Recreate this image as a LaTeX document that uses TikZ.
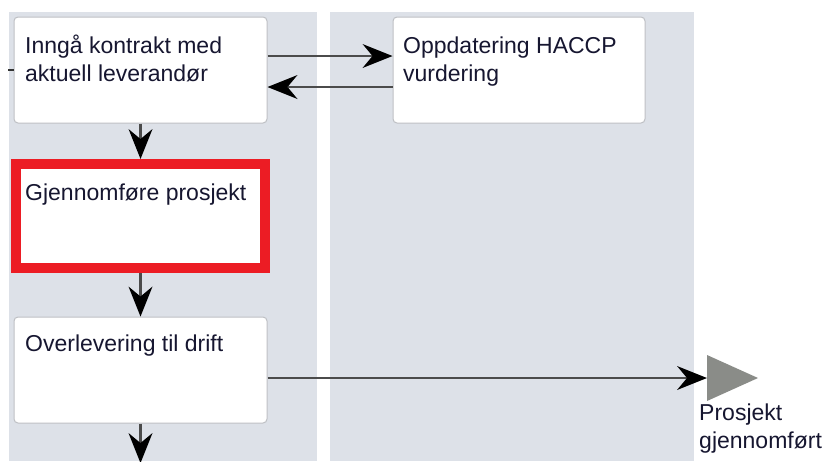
\documentclass[tikz,border=0pt]{standalone}
\usepackage{fontspec}
\setmainfont{Liberation Sans}
\usetikzlibrary{arrows.meta}
\definecolor{lanebg}{RGB}{221,225,232}
\definecolor{boxline}{RGB}{190,192,196}
\definecolor{txtcol}{RGB}{22,22,48}
\definecolor{conncol}{RGB}{75,75,75}
\definecolor{redbox}{RGB}{236,28,36}
\definecolor{trigray}{RGB}{138,140,136}
\tikzset{
  lane/.style={fill=lanebg, draw=none},
  procbox/.style={draw=boxline, line width=1pt, fill=white, rounded corners=4pt, minimum width=253pt, minimum height=106pt, inner sep=0pt},
  hlbox/.style={draw=redbox, line width=10pt, fill=white, minimum width=249pt, minimum height=104pt, inner sep=0pt},
  txt/.style={font=\fontsize{23}{28}\selectfont, text=txtcol, align=left, inner sep=0pt, anchor=base west},
  conn/.style={draw=conncol, line width=2.6pt, -{Stealth[length=30pt, width=24pt, inset=10pt, color=black, line width=0pt]}},
  stub/.style={draw=black!80, line width=2.6pt},
  endtri/.style={fill=trigray, draw=none}
}
\begin{document}
\begin{tikzpicture}[x=1pt, y=-1pt]
\useasboundingbox[fill=white] (0,0) rectangle (826,461);
% lanes
\fill[lane] (9,12) rectangle (317,461);
\fill[lane] (330,12) rectangle (694,461);
% boxes
\node[procbox] (b1) at (140.5,70) {};
\node[procbox, minimum width=252pt] (b2) at (519,70) {};
\node[hlbox] (b3) at (140.5,216) {};
\node[procbox] (b4) at (140.5,370) {};
% texts (base anchor = last line)
\node[txt] (t1) at (25,81) {Inngå kontrakt med\\aktuell leverandør};
\node[txt] (t2) at (403,81) {Oppdatering HACCP\\vurdering};
\node[txt] (t3) at (25,200) {Gjennomføre prosjekt};
\node[txt] (t4) at (25,351) {Overlevering til drift};
\node[txt] (t5) at (699,448) {Prosjekt\\gjennomført};
% end event
\coordinate (endw) at (707,378);
\fill[endtri] (endw) ++(0,-23) -- ++(51,23) -- ++(-51,23) -- cycle;
% free ends
\coordinate (inl) at (8,70);
\coordinate (outb) at (140.5,463);
% connectors
\draw[stub] (inl) -- (b1.west);
\draw[conn] ([yshift=14pt]b1.east) -- ([yshift=14pt]b2.west);
\draw[conn] ([yshift=-17pt]b2.west) -- ([yshift=-17pt]b1.east);
\draw[conn] (b1.south) -- (b3.north);
\draw[conn] (b3.south) -- (b4.north);
\draw[conn] ([yshift=-8pt]b4.east) -- (endw);
\draw[conn] (b4.south) -- (outb);
\end{tikzpicture}
\end{document}
